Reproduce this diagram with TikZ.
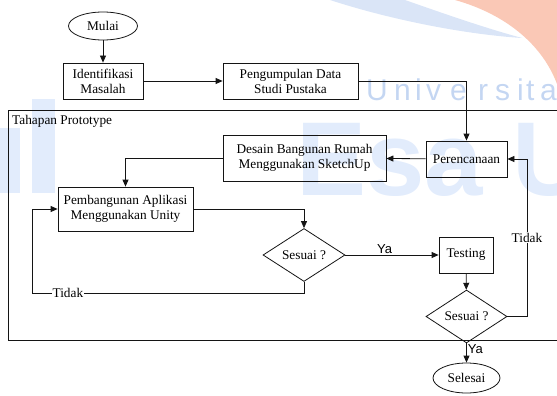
\documentclass[tikz,border=0pt]{standalone}
\usepackage{fontspec}
\setmainfont{Liberation Serif}
\newfontfamily\sansfont{Liberation Sans}
\usetikzlibrary{shapes.geometric,arrows.meta}

\definecolor{ink}{RGB}{20,20,20}
\definecolor{wmblue}{RGB}{226,236,252}
\definecolor{wmtext}{RGB}{196,214,242}
\definecolor{wmswoosh}{RGB}{218,229,247}
\definecolor{wmorange}{RGB}{250,200,182}

\begin{document}
\begin{tikzpicture}[x=1pt,y=-1pt,
  font=\fontsize{13.3}{15}\selectfont,
  line/.style={draw=ink,line width=0.8pt},
  arr/.style={line,-{Triangle[length=7pt,width=6pt]}},
  proc/.style={draw=ink,line width=0.8pt,rectangle,align=center,inner sep=0pt},
  term/.style={draw=ink,line width=0.8pt,ellipse,inner sep=0pt},
  dec/.style={draw=ink,line width=0.8pt,diamond,inner sep=0pt},
  gap/.style={fill=white,inner sep=1pt},
  yalbl/.style={font=\sansfont\fontsize{13}{15}\selectfont,inner sep=1pt},
  wmletter/.style={text=wmtext,font=\sansfont\fontsize{30}{30}\selectfont,anchor=base west,inner sep=0pt}
]
\useasboundingbox (0,0) rectangle (557,396);
\clip (0,0) rectangle (557,396);

% background logo marks
\fill[wmorange] (455,0) .. controls (505,14) and (542,44) .. (557,84) -- (557,0) -- cycle;
\fill[wmswoosh] (330,0) -- (405,0) .. controls (445,14) and (485,28) .. (522,38)
  .. controls (460,34) and (385,18) .. cycle;
\fill[wmblue] (32,99) rectangle (55,193);
\fill[wmblue] (0,128) rectangle (20,193);
\node[anchor=base west,text=wmblue,inner sep=0pt,
  font=\sansfont\bfseries\fontsize{105}{105}\selectfont] (wmbig) at (296,195) {Esa U};
\foreach \c/\x [count=\i] in {U/366,n/394,i/415,v/426,e/450,r/478,s/495,i/517,t/526,a/540}
  \node[wmletter] (wm\i) at (\x,100) {\c};

% stage frame
\draw[line] (8,110) rectangle (580,340);
\node[anchor=west,inner sep=0pt] (stage) at (12,121) {Tahapan Prototype};

% nodes
\node[term,minimum width=69pt,minimum height=28pt] (mulai) at (103,26) {Mulai};
\node[proc,minimum width=80pt,minimum height=36pt] (ident) at (103,81) {Identifikasi\\Masalah};
\node[proc,minimum width=135pt,minimum height=36pt] (pengum) at (290.5,81) {Pengumpulan Data\\Studi Pustaka};
\node[proc,minimum width=81pt,minimum height=36pt] (peren) at (466.5,159) {Perencanaan};
\node[proc,minimum width=163pt,minimum height=46pt] (desain) at (304.5,158) {Desain Bangunan Rumah\\Menggunakan SketchUp};
\node[proc,minimum width=135pt,minimum height=44pt] (pemb) at (125.5,209) {Pembangunan Aplikasi\\Menggunakan Unity};
\node[dec,minimum width=82pt,minimum height=46pt] (d1) at (304,255) {Sesuai ?};
\node[proc,minimum width=54pt,minimum height=36pt] (testing) at (466,255) {Testing};
\node[dec,minimum width=81pt,minimum height=47pt] (d2) at (466.5,316.5) {Sesuai ?};
\node[term,minimum width=67pt,minimum height=30pt] (selesai) at (466.5,378) {Selesai};

% helper corners
\coordinate (rt1) at (527,316.5);
\coordinate (rt2) at (527,159);
\coordinate (lb1) at (304,293);
\coordinate (lb2) at (32,293);
\coordinate (lb3) at (32,209);

% connectors
\draw[arr] (mulai) -- (ident);
\draw[arr] (ident) -- (pengum);
\draw[arr] (pengum.east) -| (peren.north);
\draw[arr] (peren) -- (desain);
\draw[arr] (desain.west) -| (pemb.north);
\draw[arr] (pemb.east) -| (d1.north);
\draw[arr] (d1.east) -- node[yalbl,above,pos=0.42] (ya1) {Ya} (testing.west);
\draw[arr] (testing) -- (d2);
\draw[arr] (d2.east) -- (rt1) -- node[gap,pos=0.5] (tidak2) {Tidak} (rt2) -- (peren.east);
\draw[arr] (d1.south) -- (lb1) -- node[gap,pos=0.868] (tidak1) {Tidak} (lb2) -- (lb3) -- (pemb.west);
\draw[arr] (d2.south) -- node[yalbl,right,pos=0.3] (ya2) {Ya} (selesai.north);
\end{tikzpicture}
\end{document}
